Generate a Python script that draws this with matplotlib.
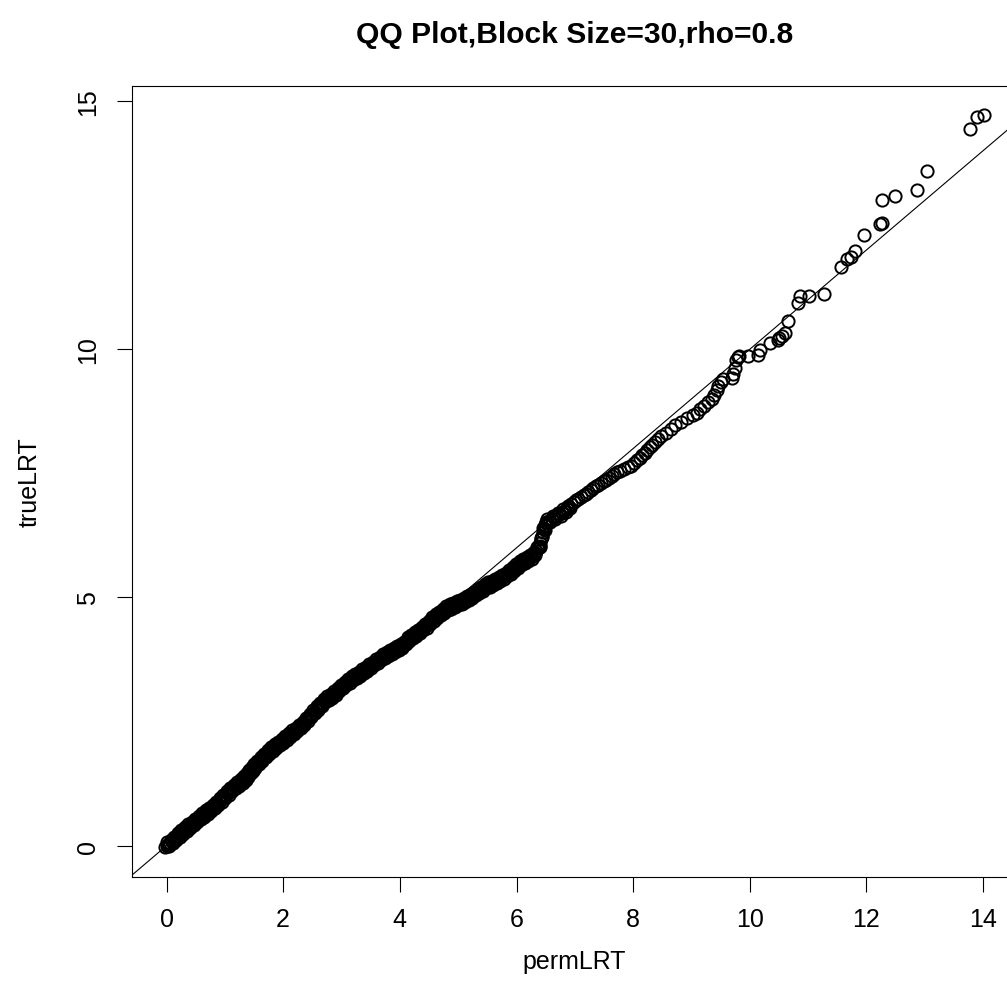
import matplotlib
matplotlib.use("Agg")
import matplotlib.pyplot as plt
import numpy as np

plt.rcParams.update(
    {
        "font.family": ["Liberation Sans", "DejaVu Sans"],
        "font.size": 18,
        "axes.linewidth": 0.8,
        "figure.facecolor": "white",
        "savefig.facecolor": "white",
    }
)

# sorted quantiles, split by range
perm_low = [-0.03, 0.00, 0.03, 0.06, 0.09, 0.12, 0.15, 0.18, 0.21, 0.24,
            0.27, 0.30, 0.33, 0.36, 0.39, 0.42, 0.45, 0.48, 0.51,
            0.54, 0.57, 0.60, 0.63, 0.66, 0.69, 0.72, 0.75, 0.78, 0.81,
            0.84, 0.87, 0.90, 0.93, 0.96, 0.99, 1.02, 1.05, 1.08,
            1.11, 1.14, 1.17, 1.20, 1.23, 1.26, 1.29, 1.32,
            1.35, 1.37, 1.39, 1.41, 1.43, 1.45, 1.47, 1.49,
            1.51, 1.54, 1.57, 1.60, 1.63, 1.66, 1.69, 1.72,
            1.75, 1.78, 1.81, 1.84, 1.87, 1.90, 1.93, 1.96, 1.99, 2.02]
true_low = [-0.03, 0.00, 0.03, 0.06, 0.09, 0.12, 0.15, 0.19, 0.22, 0.25,
            0.28, 0.31, 0.34, 0.37, 0.40, 0.42, 0.45, 0.48, 0.51,
            0.54, 0.57, 0.60, 0.62, 0.65, 0.68, 0.70, 0.73, 0.76, 0.79,
            0.82, 0.85, 0.89, 0.92, 0.96, 0.99, 1.03, 1.06, 1.10,
            1.14, 1.17, 1.19, 1.22, 1.25, 1.27, 1.30, 1.33,
            1.36, 1.39, 1.42, 1.46, 1.49, 1.52, 1.55, 1.58,
            1.61, 1.64, 1.68, 1.72, 1.75, 1.78, 1.82, 1.85,
            1.89, 1.92, 1.95, 1.98, 2.01, 2.03, 2.06, 2.09, 2.11, 2.14]

perm_mid = [2.05, 2.08, 2.11, 2.14, 2.17, 2.20, 2.23, 2.26, 2.29,
            2.32, 2.35, 2.38, 2.41, 2.44, 2.47, 2.50, 2.53, 2.56,
            2.59, 2.62, 2.65, 2.68, 2.71,
            2.74, 2.77, 2.80, 2.83, 2.86, 2.89,
            2.92, 2.95, 2.98, 3.01, 3.04, 3.07,
            3.10, 3.13, 3.16, 3.19, 3.22, 3.25,
            3.28, 3.31, 3.34, 3.37, 3.40,
            3.43, 3.46, 3.49, 3.52, 3.55, 3.58, 3.61, 3.64,
            3.67, 3.70, 3.73, 3.76, 3.79, 3.82,
            3.85, 3.88, 3.91, 3.94, 3.97, 4.00, 4.03,
            4.06, 4.09, 4.12, 4.15, 4.18, 4.21,
            4.24, 4.27, 4.30, 4.33, 4.36, 4.39, 4.42]
true_mid = [2.17, 2.20, 2.23, 2.26, 2.29, 2.32, 2.34, 2.37, 2.40,
            2.43, 2.47, 2.51, 2.55, 2.59, 2.62, 2.66, 2.70, 2.74,
            2.77, 2.81, 2.85, 2.88, 2.92,
            2.95, 2.97, 3.00, 3.02, 3.05, 3.07,
            3.10, 3.14, 3.18, 3.21, 3.24, 3.27,
            3.30, 3.32, 3.35, 3.37, 3.39, 3.41,
            3.44, 3.46, 3.49, 3.51, 3.54,
            3.56, 3.59, 3.62, 3.64, 3.67, 3.70, 3.72, 3.75,
            3.77, 3.80, 3.82, 3.84, 3.86, 3.89,
            3.91, 3.92, 3.94, 3.96, 3.98, 4.00, 4.02,
            4.03, 4.08, 4.13, 4.17, 4.19, 4.21,
            4.24, 4.26, 4.28, 4.31, 4.34, 4.37, 4.40]

perm_up = [4.45, 4.48, 4.51, 4.54, 4.57, 4.60,
           4.63, 4.66, 4.69, 4.72, 4.75, 4.78,
           4.81, 4.84, 4.87, 4.90, 4.93, 4.96, 4.99, 5.02,
           5.05, 5.08, 5.11, 5.14, 5.17, 5.20, 5.23,
           5.26, 5.29, 5.32, 5.35, 5.38, 5.41, 5.44, 5.47,
           5.50, 5.53, 5.56, 5.59, 5.62, 5.65, 5.68,
           5.71, 5.74, 5.77, 5.80, 5.83, 5.86,
           5.89, 5.92, 5.95, 5.98, 6.01, 6.04, 6.07,
           6.10, 6.13, 6.16, 6.19, 6.22, 6.25,
           6.28, 6.31, 6.34, 6.37,
           6.40, 6.41, 6.42, 6.43, 6.45, 6.47, 6.49]
true_up = [4.43, 4.46, 4.50, 4.54, 4.57, 4.60,
           4.63, 4.65, 4.68, 4.71, 4.73, 4.76,
           4.78, 4.80, 4.82, 4.83, 4.85, 4.87, 4.88, 4.90,
           4.91, 4.93, 4.95, 4.97, 4.99, 5.01, 5.03,
           5.05, 5.08, 5.10, 5.13, 5.15, 5.18, 5.20, 5.23,
           5.25, 5.26, 5.28, 5.30, 5.32, 5.33, 5.35,
           5.37, 5.39, 5.42, 5.44, 5.46, 5.49,
           5.51, 5.54, 5.57, 5.60, 5.63, 5.66, 5.69,
           5.71, 5.73, 5.75, 5.77, 5.79, 5.81,
           5.84, 5.89, 5.94, 5.99,
           6.04, 6.10, 6.17, 6.24, 6.31, 6.38, 6.45]

# points between the ones above; the overplotted band is wider than one circle
perm_fill_low = [0.015, 0.045, 0.075, 0.105, 0.135, 0.165, 0.195, 0.225, 0.255, 0.285,
                 0.315, 0.345, 0.375, 0.405, 0.435, 0.465, 0.495, 0.525, 0.555, 0.585,
                 0.615, 0.645, 0.675, 0.705, 0.735, 0.765, 0.795, 0.825, 0.855, 0.885,
                 0.915, 0.945, 0.975, 1.005, 1.035, 1.065, 1.095, 1.125, 1.155, 1.185,
                 1.215, 1.245, 1.275, 1.305, 1.335, 1.36, 1.38, 1.40, 1.42, 1.44,
                 1.46, 1.48, 1.50, 1.525, 1.555, 1.585, 1.615, 1.645, 1.675, 1.705,
                 1.735, 1.765, 1.795, 1.825, 1.855, 1.885, 1.915, 1.945, 1.975, 2.005]
true_fill_low = [0.065, -0.005, 0.125, 0.055, 0.185, 0.12, 0.255, 0.185, 0.315, 0.245,
                 0.375, 0.305, 0.435, 0.36, 0.485, 0.415, 0.545, 0.475, 0.605, 0.535,
                 0.66, 0.585, 0.715, 0.64, 0.765, 0.695, 0.825, 0.755, 0.885, 0.82,
                 0.955, 0.89, 1.025, 0.96, 1.095, 1.03, 1.17, 1.105, 1.23, 1.155,
                 1.285, 1.21, 1.335, 1.265, 1.395, 1.325, 1.455, 1.39, 1.525, 1.455,
                 1.585, 1.515, 1.645, 1.575, 1.71, 1.65, 1.785, 1.715, 1.85, 1.785,
                 1.92, 1.855, 1.985, 1.915, 2.045, 1.97, 2.095, 2.025, 2.15, 2.075]

perm_fill_mid = [2.035, 2.065, 2.095, 2.125, 2.155, 2.185, 2.215, 2.245, 2.275, 2.305,
                 2.335, 2.365, 2.395, 2.425, 2.455, 2.485, 2.515, 2.545, 2.575, 2.605,
                 2.635, 2.665, 2.695, 2.725, 2.755, 2.785, 2.815, 2.845, 2.875, 2.905,
                 2.935, 2.965, 2.995, 3.025, 3.055, 3.085, 3.115, 3.145, 3.175, 3.205,
                 3.235, 3.265, 3.295, 3.325, 3.355, 3.385, 3.415, 3.445, 3.475, 3.505,
                 3.535, 3.565, 3.595, 3.625, 3.655, 3.685, 3.715, 3.745, 3.775, 3.805,
                 3.835, 3.865, 3.895, 3.925, 3.955, 3.985, 4.015, 4.045, 4.075, 4.105,
                 4.135, 4.165, 4.195, 4.225, 4.255, 4.285, 4.315, 4.345, 4.375, 4.405]
true_fill_mid = [2.205, 2.135, 2.265, 2.195, 2.325, 2.255, 2.38, 2.305, 2.435, 2.365,
                 2.50, 2.44, 2.58, 2.52, 2.655, 2.59, 2.73, 2.67, 2.805, 2.74,
                 2.88, 2.815, 2.95, 2.885, 3.01, 2.935, 3.06, 2.985, 3.11, 3.035,
                 3.17, 3.11, 3.245, 3.175, 3.305, 3.235, 3.36, 3.285, 3.41, 3.33,
                 3.45, 3.375, 3.50, 3.425, 3.55, 3.475, 3.60, 3.525, 3.655, 3.58,
                 3.705, 3.635, 3.76, 3.685, 3.81, 3.735, 3.86, 3.78, 3.90, 3.825,
                 3.95, 3.865, 3.98, 3.90, 4.02, 3.94, 4.06, 3.975, 4.105, 4.055,
                 4.20, 4.13, 4.25, 4.175, 4.30, 4.22, 4.345, 4.275, 4.405, 4.335]

perm_fill_up = [4.435, 4.465, 4.495, 4.525, 4.555, 4.585, 4.615, 4.645, 4.675, 4.705,
                4.735, 4.765, 4.795, 4.825, 4.855, 4.885, 4.915, 4.945, 4.975, 5.005,
                5.035, 5.065, 5.095, 5.125, 5.155, 5.185, 5.215, 5.245, 5.275, 5.305,
                5.335, 5.365, 5.395, 5.425, 5.455, 5.485, 5.515, 5.545, 5.575, 5.605,
                5.635, 5.665, 5.695, 5.725, 5.755, 5.785, 5.815, 5.845, 5.875, 5.905,
                5.935, 5.965, 5.995, 6.025, 6.055, 6.085, 6.115, 6.145, 6.175, 6.205,
                6.235, 6.265, 6.295, 6.325, 6.355,
                6.405, 6.415, 6.44, 6.46, 6.48, 6.50,
                6.53, 6.575, 6.62, 6.665, 6.71, 6.755, 6.80, 6.84, 6.88, 6.92]
true_fill_up = [4.465, 4.395, 4.53, 4.47, 4.605, 4.535, 4.665, 4.59, 4.715, 4.645,
                4.77, 4.695, 4.82, 4.74, 4.86, 4.775, 4.89, 4.81, 4.925, 4.84,
                4.955, 4.87, 4.99, 4.91, 5.03, 4.95, 5.07, 4.99, 5.115, 5.04,
                5.165, 5.09, 5.215, 5.14, 5.265, 5.19, 5.305, 5.22, 5.34, 5.26,
                5.375, 5.29, 5.41, 5.33, 5.455, 5.38, 5.50, 5.425, 5.55, 5.475,
                5.605, 5.535, 5.665, 5.595, 5.725, 5.65, 5.77, 5.69, 5.81, 5.73,
                5.85, 5.775, 5.915, 5.865, 6.015,
                6.02, 6.19, 6.22, 6.40, 6.36, 6.53,
                6.58, 6.52, 6.65, 6.59, 6.71, 6.65, 6.78, 6.72, 6.85, 6.81]

perm_sparse = [6.51, 6.55, 6.60, 6.64, 6.69, 6.73, 6.78, 6.82, 6.86, 6.90,
               6.94, 6.98, 7.02, 7.06, 7.10, 7.15, 7.19, 7.23, 7.27, 7.32,
               7.36, 7.40, 7.45, 7.50, 7.54, 7.58, 7.63, 7.68, 7.72, 7.78,
               7.85, 7.91, 7.97, 8.02, 8.07, 8.11, 8.16, 8.20, 8.24, 8.29,
               8.33]
true_sparse = [6.51, 6.55, 6.58, 6.62, 6.65, 6.68, 6.71, 6.75, 6.78, 6.83,
               6.88, 6.93, 6.96, 6.98, 7.02, 7.06, 7.09, 7.12, 7.16, 7.20,
               7.24, 7.27, 7.30, 7.34, 7.37, 7.40, 7.44, 7.48, 7.52, 7.55,
               7.59, 7.62, 7.65, 7.71, 7.76, 7.80, 7.86, 7.92, 7.97, 8.03,
               8.08]

perm_tail = [8.37, 8.42, 8.48, 8.57, 8.65, 8.72, 8.82, 8.92, 9.02, 9.09,
             9.15, 9.21, 9.28, 9.35, 9.39, 9.43, 9.46, 9.50, 9.54, 9.69,
             9.71, 9.74, 9.77, 9.80, 9.82, 9.97, 10.14, 10.17, 10.34, 10.48,
             10.50, 10.55, 10.60, 10.65, 10.83, 10.86, 11.01, 11.27, 11.57, 11.66,
             11.74, 11.81, 11.95, 12.24, 12.26, 12.27, 12.49, 12.87, 13.03, 13.77,
             13.89, 14.01]
true_tail = [8.13, 8.20, 8.25, 8.31, 8.40, 8.47, 8.53, 8.62, 8.67, 8.72,
             8.79, 8.86, 8.93, 9.00, 9.07, 9.17, 9.26, 9.35, 9.40, 9.42,
             9.50, 9.62, 9.78, 9.85, 9.86, 9.86, 9.88, 9.98, 10.13, 10.18,
             10.22, 10.27, 10.33, 10.57, 10.93, 11.07, 11.08, 11.11, 11.65, 11.82,
             11.85, 11.98, 12.30, 12.53, 12.55, 13.00, 13.08, 13.21, 13.59, 14.43,
             14.68, 14.72]

x_ticks = [0, 2, 4, 6, 8, 10, 12, 14]
y_ticks = [0, 5, 10, 15]

perm_lrt = np.concatenate([perm_low, perm_fill_low, perm_mid, perm_fill_mid, perm_up,
                           perm_fill_up, perm_sparse, perm_tail])
true_lrt = np.concatenate([true_low, true_fill_low, true_mid, true_fill_mid, true_up,
                           true_fill_up, true_sparse, true_tail])


def r_limits(values):
    # base R pads the data range by 4% on each side
    lo, hi = float(np.min(values)), float(np.max(values))
    pad = 0.04 * (hi - lo)
    return lo - pad, hi + pad


W, H = 1007, 1003
fig = plt.figure(figsize=(W / 100, H / 100), dpi=100)
# plot region runs past the right edge of the picture, as in the reference
ax = fig.add_axes([132 / W, (H - 877.5) / H, 884.5 / W, 790.9 / H])

ax.plot(perm_lrt, true_lrt, linestyle="none", marker="o", markersize=8.8,
        markerfacecolor="none", markeredgecolor="black", markeredgewidth=1.4)
ax.axline((0, 0), slope=1, color="black", linewidth=0.8)

ax.set_xlim(*r_limits(perm_lrt))
ax.set_ylim(*r_limits(true_lrt))
ax.set_xticks(x_ticks)
ax.set_yticks(y_ticks)
ax.tick_params(axis="both", direction="out", length=10.8, width=0.8, labelsize=18)
ax.tick_params(axis="x", pad=11)
ax.tick_params(axis="y", pad=12)
for lab in ax.get_yticklabels():
    lab.set_rotation(90)
    lab.set_verticalalignment("center")

cx = (132 + 1016.7) / 2 / W
fig.text(cx, 1 - 35 / H, "QQ Plot,Block Size=30,rho=0.8", ha="center", va="center",
         fontsize=21.6, fontweight="bold")
fig.text(cx, 1 - 962 / H, "permLRT", ha="center", va="center", fontsize=18)
fig.text(30 / W, 1 - 482 / H, "trueLRT", ha="center", va="center", fontsize=18, rotation=90)

fig.savefig("out.png", dpi=100)
